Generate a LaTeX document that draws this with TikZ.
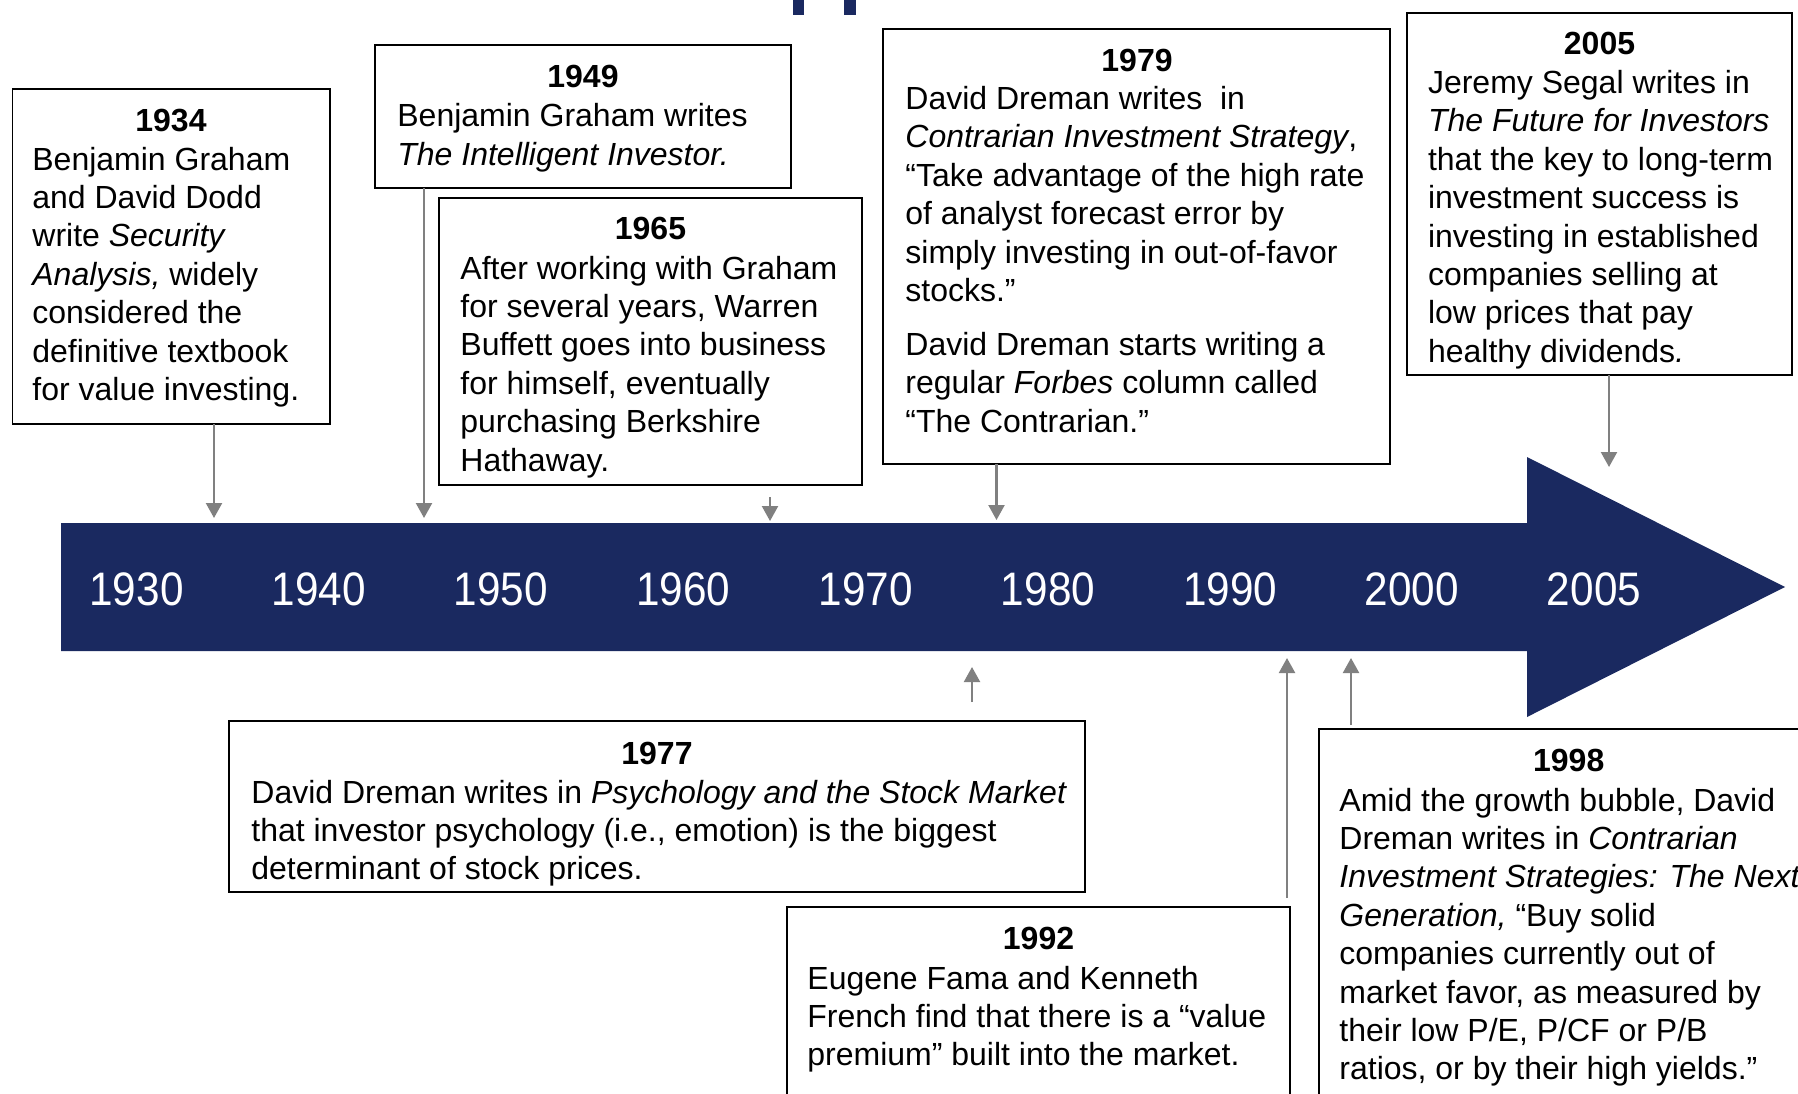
\documentclass[tikz,border=0pt]{standalone}
\usepackage{fontspec}
\setmainfont{Liberation Sans}
\usetikzlibrary{arrows.meta}
\definecolor{navy}{RGB}{26,41,96}
\definecolor{conngray}{RGB}{128,128,128}
\begin{document}
\begin{tikzpicture}[x=0.5pt,y=-0.5pt,
  box/.style={draw=black, line width=0.85pt, inner sep=0pt, outer sep=0pt, anchor=north west, fill=white},
  yr/.style={font=\fontsize{16}{19.2}\selectfont\bfseries, anchor=base, inner sep=0pt},
  body/.style={font=\fontsize{16}{19.2}\selectfont, align=left, anchor=north west, inner sep=0pt},
  tick/.style={text=white, font=\fontsize{23.5}{24}\selectfont, inner sep=0pt},
  conn/.style={draw=conngray, line width=1.1pt, -{Triangle[width=8pt,length=7.5pt]}},
]
\useasboundingbox (0,0) rectangle (1798,1093);
\clip (0,0) rectangle (1798,1093);
\fill[white] (0,0) rectangle (1798,1093);

% top remnants
\fill[navy] (793,0) rectangle (804,15);
\fill[navy] (844,0) rectangle (856,15);

% timeline arrow
\fill[navy] (61,523) -- (1527,523) -- (1527,457) -- (1785,587) -- (1527,717) -- (1527,651) -- (61,651) -- cycle;
\foreach \yy/\xx in {1930/136.5,1940/318.8,1950/501,1960/683.4,1970/865.8,1980/1048,1990/1230.4,2000/1411.6,2005/1594}{
  \node[tick] (y\yy) at (\xx,589) {\scalebox{0.9}[1]{\yy}};
}

% boxes
\node[box, minimum width=158.7pt, minimum height=167.5pt] (b1934) at (12.6,89) {};
\node[box, minimum width=208pt, minimum height=71.5pt] (b1949) at (375,45) {};
\node[box, minimum width=211.5pt, minimum height=143.5pt] (b1965) at (439,198) {};
\node[box, minimum width=253.5pt, minimum height=217.5pt] (b1979) at (883,29) {};
\node[box, minimum width=192.5pt, minimum height=181pt] (b2005) at (1407,13) {};
\node[box, minimum width=428pt, minimum height=85.5pt] (b1977) at (229,721) {};
\node[box, minimum width=251.5pt, minimum height=146.5pt] (b1992) at (787,907) {};
\node[box, minimum width=255.5pt, minimum height=235.5pt] (b1998) at (1319,729) {};

% titles
\node[yr] (h1934) at (171,131.7) {1934};
\node[yr] (h1949) at (583,87.4) {1949};
\node[yr] (h1965) at (650.5,239.7) {1965};
\node[yr] (h1979) at (1137,71.3) {1979};
\node[yr] (h2005) at (1599.5,54.1) {2005};
\node[yr] (h1977) at (657,764.7) {1977};
\node[yr] (h1992) at (1038.5,949.7) {1992};
\node[yr] (h1998) at (1568.7,771.7) {1998};

% bodies
\node[body] (t1934) at (32,142.8) {\strut Benjamin Graham\\and David Dodd\\write \textit{Security}\\\textit{Analysis,} widely\\considered the\\definitive textbook\\for value investing.};
\node[body] (t1949) at (397,99.5) {\strut Benjamin Graham writes\\\textit{The Intelligent Investor.}};
\node[body] (t1965) at (460,251.8) {\strut After working with Graham\\for several years, Warren\\Buffett goes into business\\for himself, eventually\\purchasing Berkshire\\Hathaway.};
\node[body] (t1979) at (905,82.3) {\strut David Dreman writes\ \ in\\\textit{Contrarian Investment Strategy},\\“Take advantage of the high rate\\of analyst forecast error by\\simply investing in out-of-favor\\stocks.”\\[7.75pt]David Dreman starts writing a\\regular \textit{Forbes} column called\\“The Contrarian.”};
\node[body] (t2005) at (1427.6,66.2) {\strut Jeremy Segal writes in\\\textit{The Future for Investors}\\that the key to long-term\\investment success is\\investing in established\\companies selling at\\low prices that pay\\healthy dividends\textit{.}};
\node[body] (t1977) at (251,775.8) {\strut David Dreman writes in \textit{Psychology and the Stock Market}\\that investor psychology (i.e., emotion) is the biggest\\determinant of stock prices.};
\node[body] (t1992) at (807,961.8) {\strut Eugene Fama and Kenneth\\French find that there is a “value\\premium” built into the market.};
\node[body] (t1998) at (1339,783.8) {\strut Amid the growth bubble, David\\Dreman writes in \textit{Contrarian}\\\textit{Investment Strategies: The Next}\\\textit{Generation,} “Buy solid\\companies currently out of\\market favor, as measured by\\their low P/E, P/CF or P/B\\ratios, or by their high yields.”};

% connectors
\coordinate (e1) at (214,518);
\draw[conn] (b1934.south -| e1) -- (e1);
\coordinate (e2) at (424,518);
\draw[conn] (b1949.south -| e2) -- (e2);
\coordinate (s3) at (770,497);
\coordinate (e3) at (770,521);
\draw[conn] (s3) -- (e3);
\coordinate (e4) at (996.5,520);
\draw[conn] (b1979.south -| e4) -- (e4);
\coordinate (e5) at (1609,467);
\draw[conn] (b2005.south -| e5) -- (e5);
\coordinate (s6) at (972,702);
\coordinate (e6) at (972,667);
\draw[conn] (s6) -- (e6);
\coordinate (s7) at (1287,898);
\coordinate (e7) at (1287,658);
\draw[conn] (s7) -- (e7);
\coordinate (s8) at (1351,725);
\coordinate (e8) at (1351,658);
\draw[conn] (s8) -- (e8);
\end{tikzpicture}
\end{document}
